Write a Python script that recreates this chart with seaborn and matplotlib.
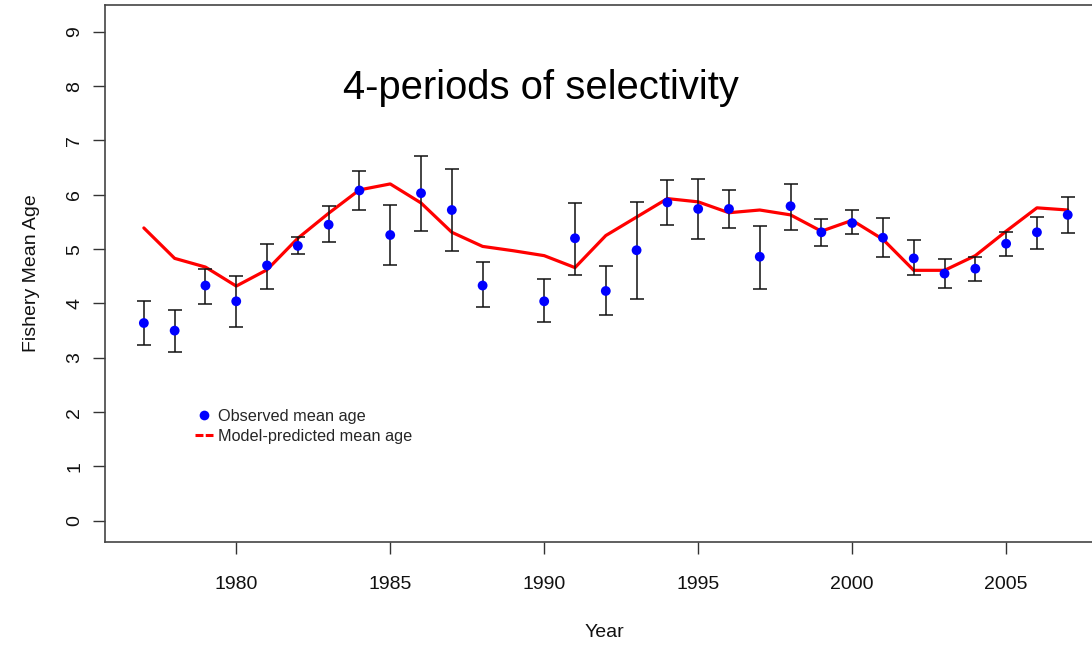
import numpy as np
import pandas as pd
import matplotlib
matplotlib.use("Agg")
import matplotlib.pyplot as plt
from matplotlib.lines import Line2D
import seaborn as sns

# Observed fishery mean age with interval bounds (no sample in 1989)
obs_years = [1977, 1978, 1979, 1980, 1981, 1982, 1983, 1984, 1985, 1986,
             1987, 1988, 1990, 1991, 1992, 1993, 1994, 1995, 1996, 1997,
             1998, 1999, 2000, 2001, 2002, 2003, 2004, 2005, 2006, 2007]
obs_mean = [3.64, 3.50, 4.33, 4.04, 4.70, 5.06, 5.45, 6.08, 5.26, 6.03,
            5.72, 4.33, 4.04, 5.20, 4.23, 4.98, 5.86, 5.74, 5.74, 4.86,
            5.79, 5.31, 5.48, 5.21, 4.83, 4.55, 4.64, 5.10, 5.31, 5.63]
obs_low = [3.23, 3.11, 3.99, 3.56, 4.26, 4.91, 5.14, 5.72, 4.70, 5.34,
           4.96, 3.93, 3.66, 4.53, 3.78, 4.09, 5.45, 5.19, 5.38, 4.26,
           5.36, 5.05, 5.27, 4.86, 4.52, 4.28, 4.42, 4.88, 5.00, 5.29]
obs_high = [4.04, 3.88, 4.64, 4.50, 5.10, 5.22, 5.79, 6.44, 5.82, 6.71,
            6.48, 4.76, 4.45, 5.84, 4.69, 5.87, 6.27, 6.29, 6.08, 5.43,
            6.20, 5.55, 5.72, 5.58, 5.17, 4.81, 4.86, 5.31, 5.60, 5.96]

# Model-predicted mean age, every year
pred_years = list(range(1977, 2008))
pred_mean = [5.39, 4.83, 4.67, 4.32, 4.62, 5.20, 5.66, 6.09, 6.20, 5.85,
             5.31, 5.05, 4.97, 4.88, 4.66, 5.25, 5.59, 5.93, 5.87, 5.67,
             5.72, 5.63, 5.33, 5.53, 5.18, 4.61, 4.61, 4.88, 5.33, 5.76,
             5.72]

x_ticks = [1980, 1985, 1990, 1995, 2000, 2005]
y_ticks = list(range(0, 10))

obs = pd.DataFrame({"Year": obs_years, "mean": obs_mean,
                    "low": obs_low, "high": obs_high})
pred = pd.DataFrame({"Year": pred_years, "mean": pred_mean})

sns.set_theme(style="white")
plt.rcParams["font.family"] = ["Liberation Sans", "DejaVu Sans"]

fig = plt.figure(figsize=(10.92, 6.46), dpi=100)
ax = fig.add_axes([0.0962, 0.161, 0.914, 0.831])

sns.lineplot(data=pred, x="Year", y="mean", ax=ax, color="#ff0000",
             linewidth=2.3, legend=False, zorder=2)
ax.errorbar(obs["Year"], obs["mean"],
            yerr=[obs["mean"] - obs["low"], obs["high"] - obs["mean"]],
            fmt="none", ecolor="#111111", elinewidth=1.1, capsize=5.0,
            capthick=1.1, zorder=3)
sns.scatterplot(data=obs, x="Year", y="mean", ax=ax, color="#0000ff",
                s=50, edgecolor="none", legend=False, zorder=4)

ax.set_xlim(1975.74, 2008.15)
ax.set_ylim(-0.39, 9.49)
ax.set_xticks(x_ticks)
ax.set_xticklabels([str(v) for v in x_ticks])
ax.set_yticks(y_ticks)
ax.set_yticklabels([str(v) for v in y_ticks], rotation=90, va="center")

ax.tick_params(axis="both", which="major", direction="out", length=8.6,
               width=1.0, color="#333333", labelsize=14, labelcolor="#111111",
               bottom=True, left=True)
ax.tick_params(axis="x", pad=16)
ax.tick_params(axis="y", pad=7)

for side in ["left", "bottom", "top", "right"]:
    ax.spines[side].set_color("#444444")
    ax.spines[side].set_linewidth(1.2)

ax.set_xlabel("Year", fontsize=14, color="#111111", labelpad=22)
ax.set_ylabel("Fishery Mean Age", fontsize=14, color="#111111", labelpad=19)

ax.text(1989.88, 7.76, "4-periods of selectivity", ha="center",
        va="baseline", fontsize=28.8, color="black")

handles = [
    Line2D([], [], linestyle="none", marker="o", markersize=7,
           markerfacecolor="#0000ff", markeredgecolor="none"),
    Line2D([], [], color="#ff0000", linewidth=2.2,
           linestyle=(0, (2.6, 0.75))),
]
ax.legend(handles, ["Observed mean age", "Model-predicted mean age"],
          loc="center left", bbox_to_anchor=(1978.67, 1.74),
          bbox_transform=ax.transData, frameon=False, fontsize=11.7,
          handlelength=1.1, handletextpad=0.3, labelspacing=0.3,
          borderpad=0, borderaxespad=0)

fig.savefig("out.png", dpi=100)
